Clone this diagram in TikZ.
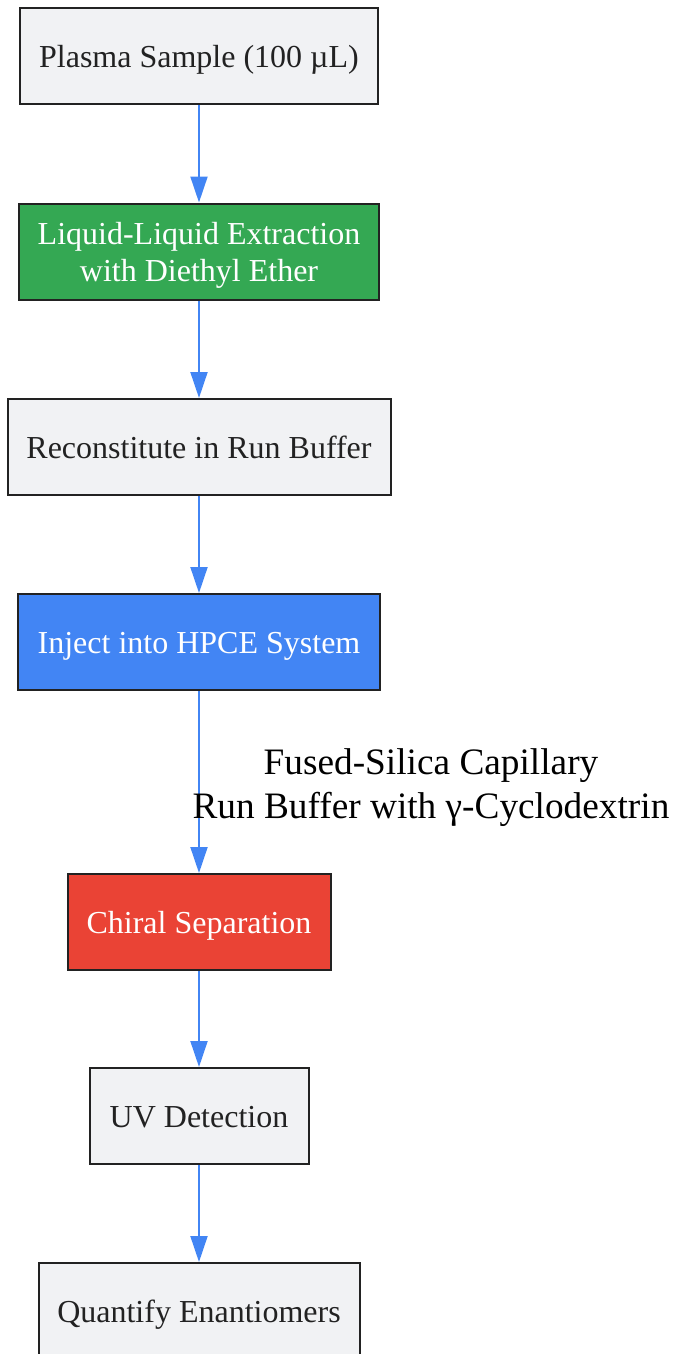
\documentclass[tikz,border=0pt]{standalone}
\usepackage{fontspec}
\setmainfont{Liberation Serif}
\usetikzlibrary{arrows.meta}
\definecolor{boxgray}{HTML}{F1F2F4}
\definecolor{boxedge}{HTML}{222222}
\definecolor{gGreen}{HTML}{34A853}
\definecolor{gBlue}{HTML}{4285F4}
\definecolor{gRed}{HTML}{EA4335}
\definecolor{txtdark}{HTML}{222222}
\newcommand{\topstrut}{\rule{0pt}{29pt}}
\newcommand{\botstrut}{\rule[-7pt]{0pt}{7pt}}
\tikzset{
  stepbox/.style={draw=boxedge, line width=2pt, fill=boxgray, text=txtdark, inner sep=0pt,
    minimum height=96pt, align=center, font=\fontsize{32}{37}\selectfont},
  greenbox/.style={stepbox, fill=gGreen, text=white},
  bluebox/.style={stepbox, fill=gBlue, text=white},
  redbox/.style={stepbox, fill=gRed, text=white},
  flow/.style={draw=gBlue, line width=2pt, -{Triangle[length=26pt,width=17pt]}},
  edgelabel/.style={align=center, text=black, font=\fontsize{37.3}{44}\selectfont}
}
\begin{document}
\begin{tikzpicture}[x=1pt,y=-1pt]
\useasboundingbox (0,0) rectangle (674,1354);
\node[stepbox, minimum width=358pt] (a) at (199,56) {\topstrut\botstrut Plasma Sample (100 µL)};
\node[greenbox, minimum width=360pt] (b) at (199,251.5) {\topstrut Liquid-Liquid Extraction\\\botstrut with Diethyl Ether};
\node[stepbox, minimum width=383pt] (c) at (199,447) {\topstrut\botstrut Reconstitute in Run Buffer};
\node[bluebox, minimum width=362pt] (d) at (199,642) {\topstrut\botstrut Inject into HPCE System};
\node[redbox, minimum width=263pt] (e) at (199,922) {\topstrut\botstrut Chiral Separation};
\node[stepbox, minimum width=219pt] (f) at (199,1116) {\topstrut\botstrut UV Detection};
\node[stepbox, minimum width=321pt] (g) at (199,1311) {\topstrut\botstrut Quantify Enantiomers};
\draw[flow] (a) -- (b);
\draw[flow] (b) -- (c);
\draw[flow] (c) -- (d);
\draw[flow] (d) -- (e);
\draw[flow] (e) -- (f);
\draw[flow] (f) -- (g);
\node[edgelabel] (lbl) at (431,788) {Fused-Silica Capillary\\Run Buffer with γ-Cyclodextrin};
\end{tikzpicture}
\end{document}
